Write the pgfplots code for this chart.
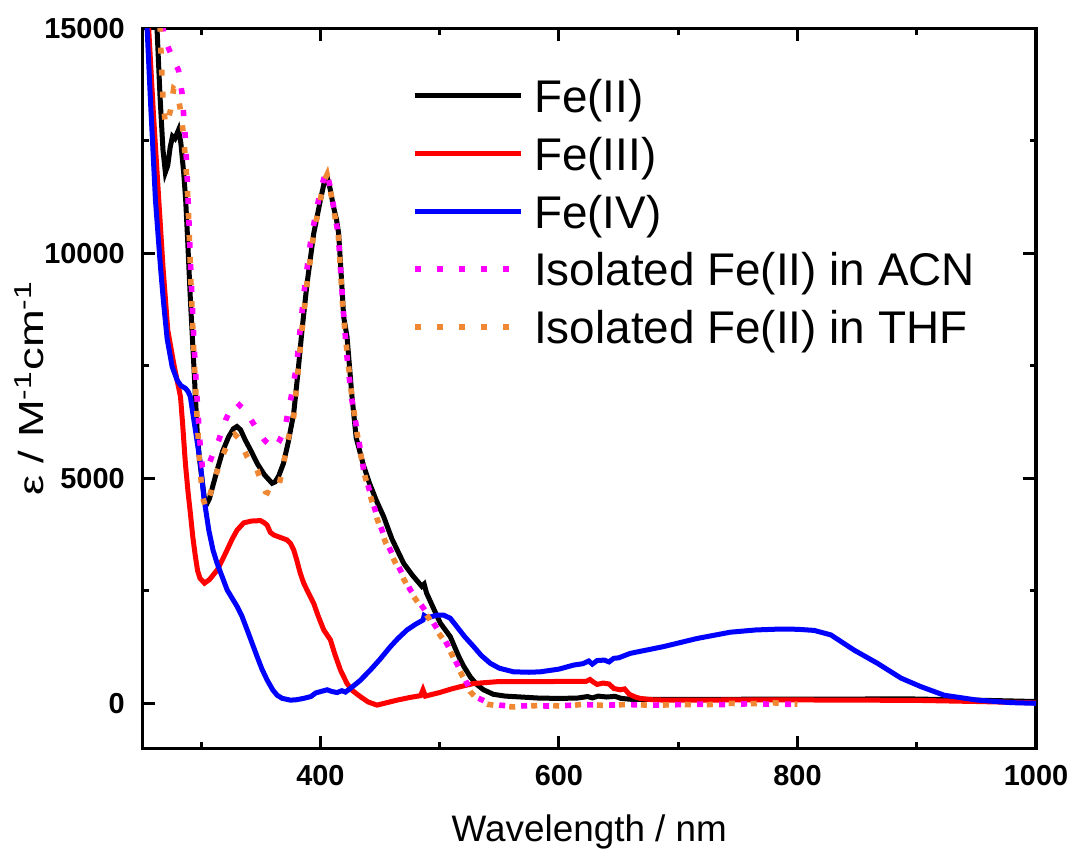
\documentclass[border=0pt]{standalone}
\usepackage{graphicx}
\usepackage{pgfplots}
\pgfplotsset{compat=1.18}
\usepackage{fontspec}
\setmainfont{Liberation Sans}
\definecolor{myorange}{RGB}{240,135,50}
\definecolor{mymagenta}{RGB}{255,0,255}
\definecolor{myred}{RGB}{255,0,0}
\definecolor{myblue}{RGB}{0,0,255}
\begin{document}
\begin{tikzpicture}
\begin{axis}[
 name=ax,
 width=446.65bp, height=360bp, scale only axis,
 xmin=251, xmax=1000, ymin=-1000, ymax=15000,
 xtick={400,600,800,1000}, minor xtick={300,500,700,900},
 ytick={0,5000,10000,15000}, minor ytick={2500,7500,12500},
 tick align=inside,
 major tick length=6.3bp, minor tick length=3.2bp,
 every tick/.style={black, line width=1.5bp},
 axis line style={line width=1.6bp},
 scaled ticks=false,
 /pgf/number format/assume math mode=true,
 /pgf/number format/set thousands separator={},
 ticklabel style={font=\fontsize{14.5}{16}\selectfont\bfseries},
 yticklabel style={xshift=-5.5bp},
 xticklabel style={yshift=-5bp},
 xlabel={Wavelength / nm},
 ylabel={\scalebox{1.3}[1]{ε / M\textsuperscript{-1}cm\textsuperscript{-1}}},
 label style={font=\fontsize{18.5}{20}\selectfont},
 xlabel style={at={(axis description cs:0.5,0)}, anchor=base, yshift=-46.7bp},
 ylabel style={at={(axis description cs:-0.1105,0.5)}, anchor=base, font=\fontsize{17.5}{20}\selectfont},
 legend style={draw=none, fill=none, inner sep=0pt, outer sep=0pt,
   at={(axis description cs:0.3015,0.9292)}, anchor=north west,
   row sep=12.3bp, font=\fontsize{23}{28}\selectfont,
   nodes={inner sep=0pt, text height=16.6bp, text depth=0pt},
   /tikz/every odd column/.append style={column sep=5.3bp}},
 legend cell align=left,
 legend image code/.code={\draw[#1] (0bp,0bp) -- (53bp,0bp);},
]
\addplot[black, line width=2.5bp] coordinates {
(255,19500)(258,17800)(261,16200)(263,15000)(265.5,13500)(268,12300)(270,11800)(272,11950)(274,12350)(276,12600)(278,12550)(281,12740)(283,12450)(285.4,11780)(287,11200)(288.5,10400)(291,8960)(293.8,7550)(296.6,6070)(298.5,5450)(300.8,4960)(302.5,4600)(304.4,4410)(307,4550)(310,4850)(313.4,5180)(318,5600)(323,5920)(327,6100)(330,6150)(333,6080)(337,5850)(342,5600)(347,5330)(353,5080)(359.5,4890)(362,4920)(365,5050)(369,5330)(373,5800)(377.6,6440)(381,7300)(384.6,8300)(388.8,9330)(394.4,10440)(400,11180)(403,11550)(405.6,11700)(408,11450)(411,11030)(413.5,10750)(415.3,10440)(417.5,9500)(419.5,8590)(422.3,8150)(426.5,6810)(430,5900)(436,5300)(441,4900)(447,4500)(453,4150)(460,3650)(469.8,3110)(477,2850)(485,2600)(487,2650)(489,2450)(495,2100)(500.6,1780)(508.9,1480)(516,1040)(520,830)(525.6,590)(531,420)(536.8,300)(545,200)(555,160)(565,145)(584,115)(600,110)(615,115)(624,150)(628,120)(633,160)(640,140)(647,155)(652,110)(660,90)(680,85)(700,90)(750,90)(800,95)(850,95)(890,100)(900,95)(950,70)(1000,40)
};
\addlegendentry{Fe(II)}
\addplot[myred, line width=2.5bp] coordinates {
(252,17500)(254,16300)(256,15000)(260,13100)(264.5,11180)(268,9700)(272,8300)(277,7550)(282.7,6810)(284.5,6200)(286.8,5330)(289,4700)(291,4220)(293,3700)(295.2,3260)(297,2950)(299,2780)(302.8,2670)(307,2750)(313.4,2960)(318,3200)(321.8,3410)(326,3650)(330.2,3850)(335.7,4010)(342,4050)(349.7,4060)(352.5,4020)(355.3,3960)(358,3800)(360.9,3740)(366,3690)(372.1,3630)(375,3550)(377.6,3410)(380,3200)(383,2900)(386,2670)(390,2450)(394.4,2220)(398,1950)(402.8,1630)(408.4,1410)(412,1100)(416.8,740)(422.3,440)(427,280)(433.4,150)(440,30)(447.5,-40)(455,10)(464.2,70)(475,130)(484,170)(486,300)(488,160)(500,240)(510,320)(517.3,370)(528.5,440)(548,480)(584,480)(610,490)(623,490)(626,530)(629,470)(632,420)(637,450)(642,430)(646,330)(651.4,300)(655,320)(659,200)(664,140)(668,110)(680,75)(700,70)(750,75)(800,75)(850,70)(900,65)(950,40)(1000,10)
};
\addlegendentry{Fe(III)}
\addplot[myblue, line width=2.5bp] coordinates {
(252,17000)(254.7,15000)(257.5,13400)(261.7,11180)(265.9,9700)(268.5,8900)(271.5,8100)(275.7,7480)(279.9,7180)(283,7060)(286.8,7000)(289,6930)(291,6810)(293,6450)(295.2,6070)(299.4,5330)(302.2,4590)(306.4,3850)(310,3400)(313.4,3110)(321.8,2520)(330.2,2150)(334,1950)(338.6,1630)(346.9,1040)(351,760)(355.3,520)(360,300)(363.7,180)(368,110)(374.9,70)(380,80)(386,110)(392,150)(396,230)(400,260)(405.6,300)(410,260)(414,240)(418,280)(421,250)(425.1,330)(433,500)(441.9,740)(450,980)(458.7,1260)(465,1440)(472.6,1630)(480,1760)(486,1850)(487,1950)(490,1900)(497.7,1960)(503.3,1960)(508.9,1890)(514.5,1700)(521,1480)(528.5,1260)(535,1060)(542.4,890)(550,780)(562,700)(575,690)(584.5,700)(600,760)(612.4,850)(620,880)(625,940)(628,870)(632,950)(638,960)(642,920)(646,1000)(650,1010)(659.8,1110)(687.7,1260)(715.7,1440)(743.6,1580)(765,1630)(785,1650)(800,1645)(814,1620)(828,1520)(847.6,1180)(867,890)(886.8,560)(903.5,370)(923,180)(951,70)(979,15)(1000,0)
};
\addlegendentry{Fe(IV)}
\addplot[mymagenta, line width=2.8bp, line cap=butt, dash pattern=on 3bp off 8bp] coordinates {
(262,17500)(265,16000)(268.7,14800)(272,14600)(276,14350)(281,14070)(284,13550)(285.4,13050)(286.8,12550)(288,11900)(289.5,10900)(291.5,9500)(294,8000)(296.5,6800)(299,5800)(301,5250)(303,5150)(306,5280)(310,5550)(314.8,5850)(320.4,6290)(325,6550)(330,6680)(335,6550)(341.9,6300)(347,6080)(353,5850)(358,5720)(361.5,5670)(365,5800)(369.9,6070)(375.5,6810)(380,7500)(383,8300)(387,9300)(392,10300)(397,11000)(401,11500)(405,11830)(408,11500)(411,11050)(415,10400)(419,8800)(422.3,7700)(426,6800)(430.7,6070)(436.3,5180)(442,4650)(447.5,4150)(455,3600)(464.2,3110)(475.4,2520)(486,2130)(492,1900)(498,1650)(504,1420)(509,1180)(515,850)(520,600)(525.6,300)(532,120)(540,20)(550,-40)(562,-70)(575,-50)(590,-60)(605,-50)(620,-30)(640,-40)(660,-30)(680,-40)(700,-30)(720,-20)(740,-30)(760,-10)(780,-20)(800,-20)
};
\addlegendentry{Isolated Fe(II) in ACN}
\addplot[myorange, line width=2.8bp, line cap=butt, dash pattern=on 3bp off 8bp] coordinates {
(261,17500)(264,16000)(265.9,14850)(266.5,14330)(267.3,13850)(268.1,13370)(270.1,12850)(272,12950)(274.3,13180)(277,13660)(280,13600)(282.5,13200)(285.4,12590)(286.8,12070)(288.2,11590)(289.5,10800)(291.5,9300)(294,7700)(296.5,6400)(299,5200)(301.5,4550)(304,4350)(307,4600)(312,5050)(318,5500)(324.5,5920)(328,5980)(331,5900)(334,5750)(338.6,5480)(343,5300)(347,5180)(350,4950)(354,4700)(358,4650)(362,4700)(365,4810)(369,5300)(372.1,5780)(377.6,6370)(381,7300)(384.6,8300)(388.8,9330)(394.4,10440)(400,11200)(403,11600)(405.6,11750)(408,11450)(411,11000)(415,10400)(419,8700)(422.3,7800)(426,6900)(430.7,6000)(436.3,5150)(442,4600)(447.5,4100)(455,3550)(464.2,3050)(475.4,2480)(486,2080)(492,1850)(498,1600)(504,1380)(509,1150)(515,820)(520,560)(525.6,260)(532,80)(540,-20)(550,-60)(562,-80)(575,-60)(590,-40)(605,-70)(620,-20)(640,-50)(660,-20)(680,-50)(700,-20)(720,-40)(740,0)(760,-10)(780,10)(800,-20)
};
\addlegendentry{Isolated Fe(II) in THF}
\end{axis}
\pgfresetboundingbox
\path[use as bounding box] ([xshift=-71.35bp,yshift=-53.35bp]ax.south west) rectangle ([xshift=18.5bp,yshift=14.15bp]ax.north east);
\end{tikzpicture}
\end{document}
